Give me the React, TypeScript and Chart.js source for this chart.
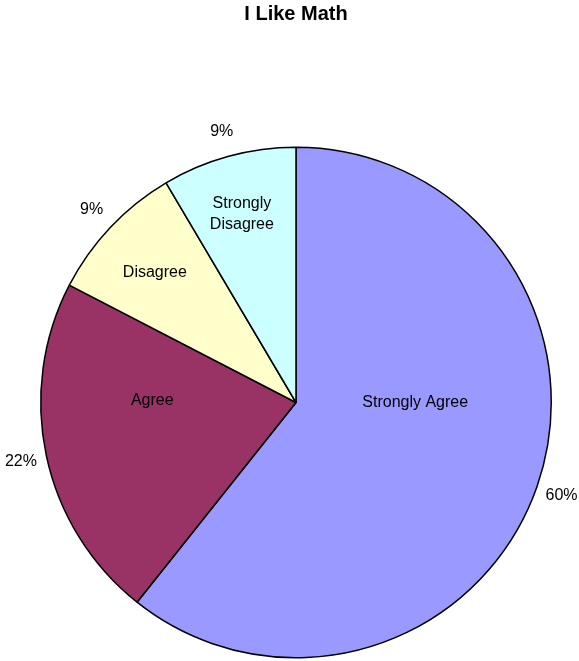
import React, { useEffect, useRef } from "react";
import { Chart, registerables } from "chart.js";

Chart.register(...registerables);

const titleText = "I Like Math";
const categories = ["Strongly Agree", "Agree", "Disagree", "Strongly Disagree"];
const nameLines = [["Strongly Agree"], ["Agree"], ["Disagree"], ["Strongly", "Disagree"]];
const shares = [60.7, 21.9, 8.9, 8.5];
const percentLabels = ["60%", "22%", "9%", "9%"];
const colors = ["#9999FF", "#993366", "#FFFFCC", "#CCFFFF"];

// name label positions relative to pie centre, as a fraction of radius
const nameOffsets = [
  [0.467, 0.0],
  [-0.563, -0.008],
  [-0.553, -0.51],
  [-0.212, -0.739],
];

const FONT = "'Liberation Sans', Arial, sans-serif";

const labelPlugin = {
  id: "pieLabels",
  afterDraw(chart: any) {
    const ctx = chart.ctx;
    const meta = chart.getDatasetMeta(0);
    const arc0 = meta.data[0];
    const cx = arc0.x;
    const cy = arc0.y;
    const r = arc0.outerRadius;
    ctx.save();
    ctx.fillStyle = "#000";
    ctx.textAlign = "center";
    ctx.textBaseline = "middle";
    // title
    ctx.font = `bold 20px ${FONT}`;
    ctx.fillText(titleText, cx, 14);
    ctx.font = `16px ${FONT}`;
    meta.data.forEach((arc: any, i: number) => {
      const mid = (arc.startAngle + arc.endAngle) / 2;
      const pr = r + 26;
      ctx.fillText(percentLabels[i], cx + Math.cos(mid) * pr, cy + Math.sin(mid) * pr);
      const [fx, fy] = nameOffsets[i];
      const lines = nameLines[i];
      const lh = 21;
      lines.forEach((ln, j) => {
        const y = cy + fy * r + (j - (lines.length - 1) / 2) * lh;
        ctx.fillText(ln, cx + fx * r, y);
      });
    });
    ctx.restore();
  },
};

export default function App() {
  const ref = useRef<HTMLCanvasElement>(null);
  useEffect(() => {
    if (!ref.current) return;
    const chart = new Chart(ref.current, {
      type: "pie",
      data: {
        labels: categories,
        datasets: [
          {
            data: shares,
            backgroundColor: colors,
            borderColor: "#000",
            borderWidth: 1.5,
            hoverOffset: 0,
            offset: 0,
          },
        ],
      },
      options: {
        responsive: false,
        animation: false,
        layout: { padding: { left: 40, right: 27, top: 145, bottom: 1 } },
        plugins: {
          legend: { display: false },
          title: { display: false },
          tooltip: { enabled: false },
        },
      },
      plugins: [labelPlugin],
    });
    return () => chart.destroy();
  }, []);
  return (
    <div style={{ position: "absolute", left: 0, top: 0, width: 579, height: 661, background: "#fff" }}>
      <canvas ref={ref} width={579} height={661} style={{ width: 579, height: 661 }} />
    </div>
  );
}
